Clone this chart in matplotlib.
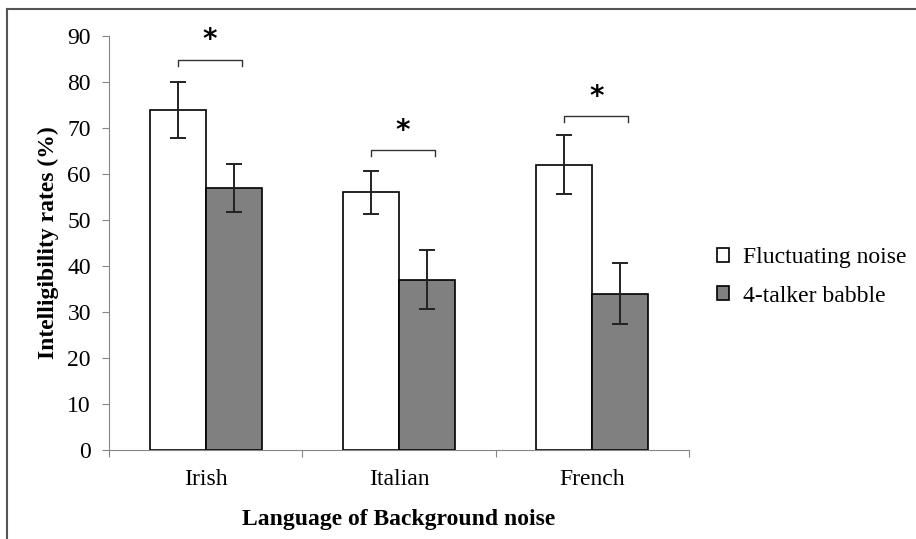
import matplotlib
matplotlib.use("Agg")
import matplotlib.pyplot as plt
import numpy as np
from matplotlib.lines import Line2D

plt.rcParams['font.family'] = ['Liberation Serif', 'DejaVu Serif']

categories = ["Irish", "Italian", "French"]
series_names = ["Fluctuating noise", "4-talker babble"]
fluct = [74, 56, 62]
fluct_err = [6.1, 4.7, 6.4]
babble = [57, 37, 34]
babble_err = [5.2, 6.4, 6.7]
brackets_y = [84.8, 65.2, 72.6]
yticks = [0, 10, 20, 30, 40, 50, 60, 70, 80, 90]

fig = plt.figure(figsize=(9.16, 5.39), dpi=100)
ax = fig.add_axes([109/916, 1 - 450/539, (689 - 109)/916, (450 - 36)/539])

x = np.arange(len(categories))
w = 0.29
ax.bar(x - w/2, fluct, w, color="white", edgecolor="black", linewidth=1.2,
       yerr=fluct_err, capsize=6, error_kw=dict(ecolor="#222222", elinewidth=1.4, capthick=1.4),
       label=series_names[0], zorder=2)
ax.bar(x + w/2, babble, w, color="#808080", edgecolor="black", linewidth=1.2,
       yerr=babble_err, capsize=6, error_kw=dict(ecolor="#222222", elinewidth=1.4, capthick=1.4),
       label=series_names[1], zorder=2)

for i, yb in enumerate(brackets_y):
    x0 = i - w/2
    x1 = i + 0.187
    ax.plot([x0, x0, x1, x1], [yb - 1.3, yb, yb, yb - 1.3], color="#333333", lw=1.0, clip_on=False)
    ax.text((x0 + x1)/2, yb + 1.2, "*", ha="center", va="bottom", fontsize=20,
            family=["DejaVu Sans"], fontweight="bold")

ax.set_xlim(-0.5, 2.5)
ax.set_ylim(0, 90)
ax.set_yticks(yticks)
ax.set_xticks([-0.5, 0.5, 1.5, 2.5], minor=False)
ax.set_xticklabels([])
ax.set_xticks(x, minor=True)
ax.set_xticklabels(categories, minor=True)
ax.tick_params(axis="x", which="minor", length=0, labelsize=17, pad=14)
ax.tick_params(axis="x", which="major", length=5, direction="out", color="#868686", top=False)
ax.tick_params(axis="y", length=5, direction="out", color="#868686", labelsize=17, pad=8)

for s in ["top", "right"]:
    ax.spines[s].set_visible(False)
ax.spines["left"].set_color("#868686")
ax.spines["bottom"].set_color("#868686")

ax.set_ylabel("Intelligibility rates (%)", fontsize=17, fontweight="bold", labelpad=6)
ax.set_xlabel("Language of Background noise", fontsize=17, fontweight="bold", labelpad=13)

leg = ax.legend(loc="center left", bbox_to_anchor=(696/916, 1 - 277/539),
                bbox_transform=fig.transFigure, frameon=False, fontsize=17,
                handlelength=0.5, handleheight=0.5, handletextpad=0.6, labelspacing=0.72)

fig.add_artist(Line2D([7/916, 7/916], [0, 1 - 9/539], transform=fig.transFigure,
                      color="#555555", lw=1.5))
fig.add_artist(Line2D([7/916, 1], [1 - 9/539, 1 - 9/539], transform=fig.transFigure,
                      color="#555555", lw=1.5))

fig.savefig("out.png", dpi=100)
